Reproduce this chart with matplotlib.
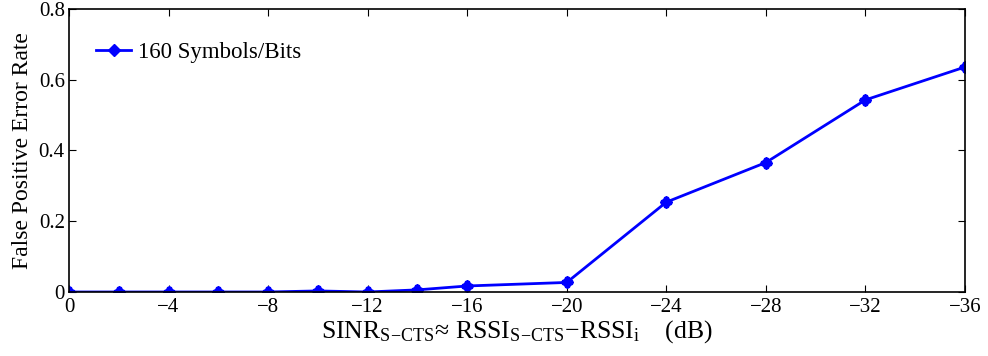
import matplotlib
matplotlib.use("Agg")
import matplotlib.pyplot as plt

sinr_db = [0, -2, -4, -6, -8, -10, -12, -14, -16, -20, -24, -28, -32, -36]
fp_rate = [0.0, 0.0, 0.0, 0.0, 0.0, 0.003, 0.0, 0.006, 0.017, 0.027, 0.254, 0.366, 0.543, 0.636]
x_ticks = [0, -4, -8, -12, -16, -20, -24, -28, -32, -36]
y_ticks = [0, 0.2, 0.4, 0.6, 0.8]
y_ticklabels = ["0", "0.2", "0.4", "0.6", "0.8"]
series_label = "160 Symbols/Bits"

plt.rcParams['font.family'] = ['Liberation Serif', 'DejaVu Serif']
plt.rcParams['mathtext.fontset'] = 'custom'
plt.rcParams['mathtext.rm'] = 'Liberation Serif'
plt.rcParams['mathtext.it'] = 'Liberation Serif:italic'

fig = plt.figure(figsize=(9.88, 3.56), dpi=100)
ax = fig.add_axes([0.0698, 0.1798, 0.9069, 0.7949])

ax.plot(sinr_db, fp_rate, color='#0000ff', lw=2, marker='D', ms=6,
        label=series_label)
ax.plot(sinr_db, fp_rate, color='#0000ff', lw=0, marker='P', ms=7)

ax.set_xlim(0, -36)
ax.set_ylim(0, 0.8)
ax.set_xticks(x_ticks)
ax.set_xticklabels([str(t).replace('-', '\u2212') for t in x_ticks])
ax.set_yticks(y_ticks)
ax.set_yticklabels(y_ticklabels)
ax.tick_params(direction='in', top=True, right=True, labelsize=15, length=5,
               width=0.8, pad=3)
ax.tick_params(axis='x', pad=4)
for s in ax.spines.values():
    s.set_linewidth(1.2)

ax.set_ylabel('False Positive Error Rate', fontsize=17, labelpad=4)
ax.set_xlabel(r'SINR$_{\mathrm{S\!-\!CTS}}$≈ RSSI$_{\mathrm{S\!-\!CTS}}$−RSSI$_{\mathrm{i}}$    (dB)',
              fontsize=18.5, labelpad=1)

ax.legend(loc='upper left', frameon=False, fontsize=16.5, handlelength=1.5,
          handletextpad=0.3, bbox_to_anchor=(0.005, 0.965), borderaxespad=0.6)

fig.savefig('out.png', dpi=100)
